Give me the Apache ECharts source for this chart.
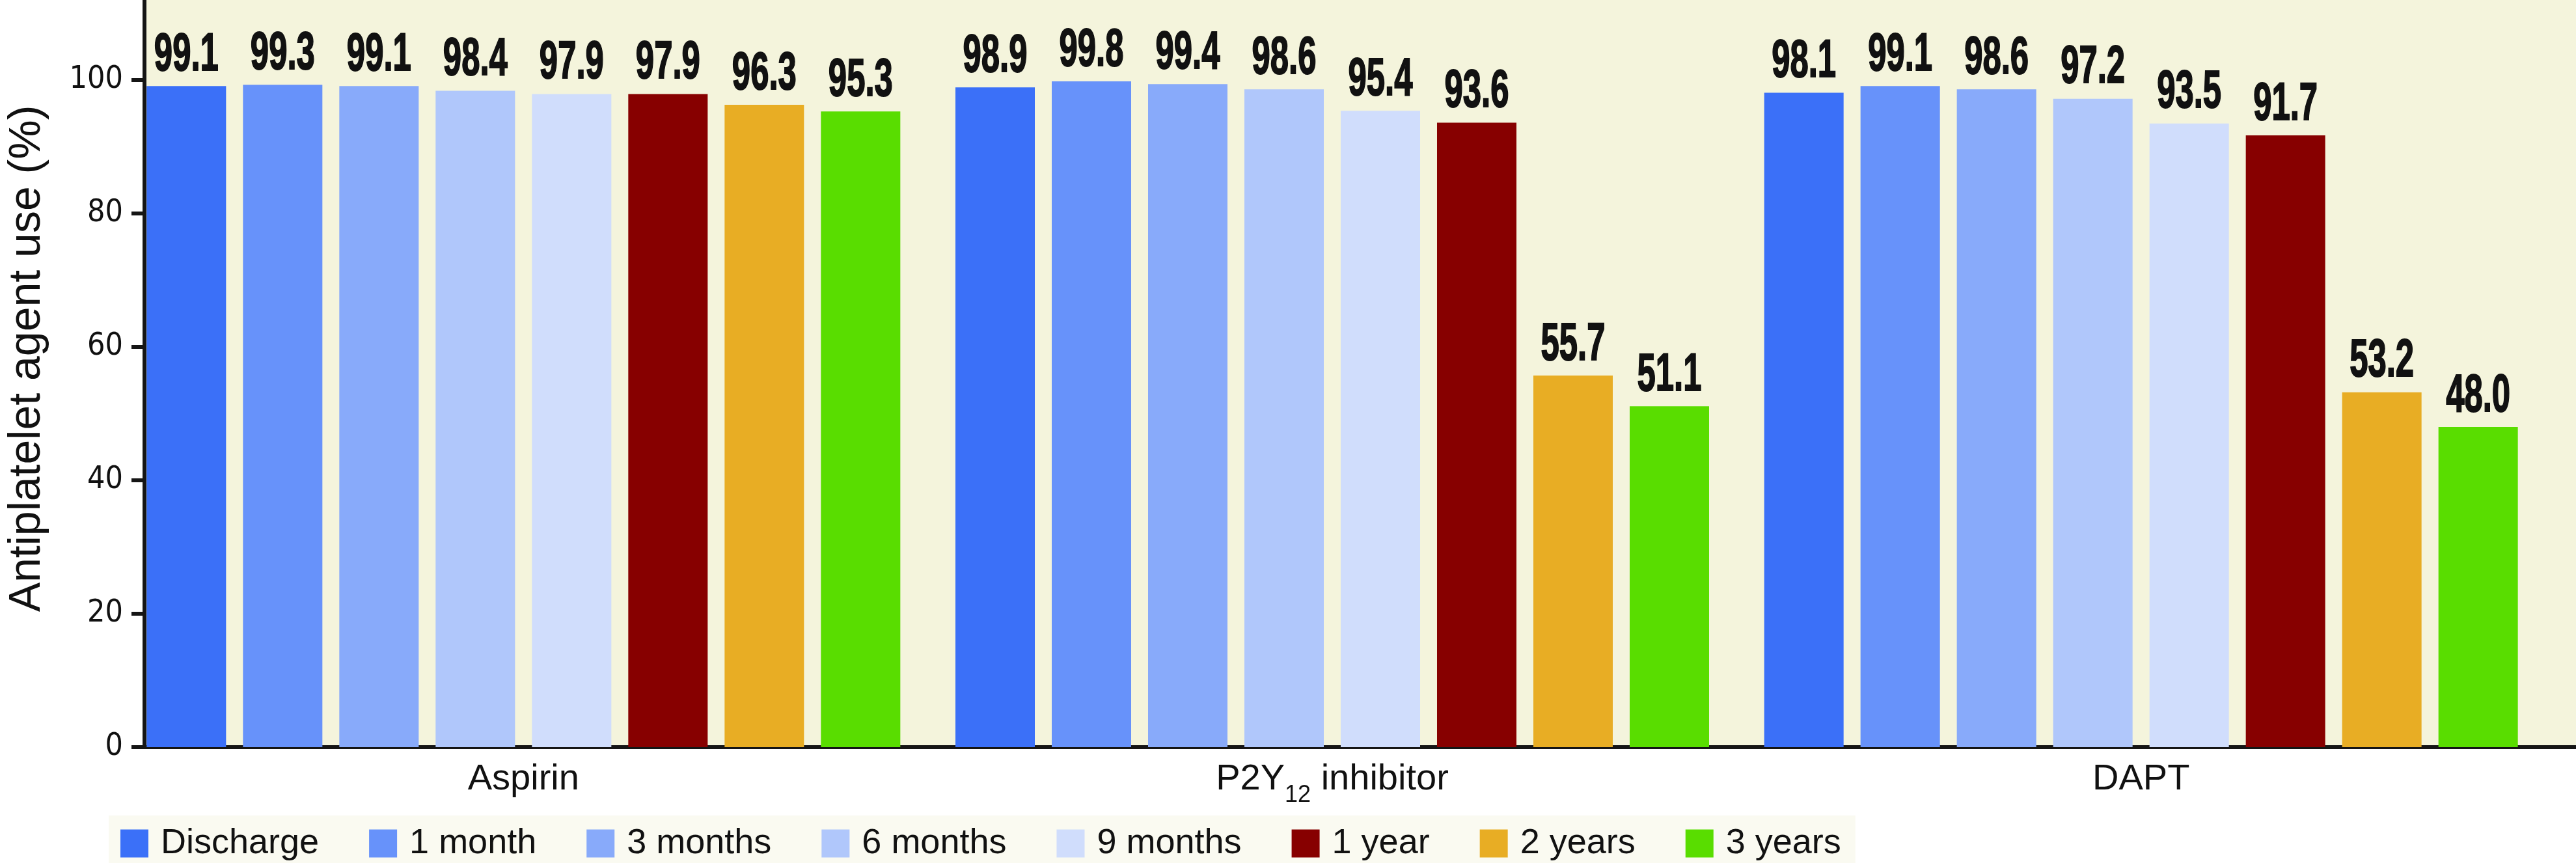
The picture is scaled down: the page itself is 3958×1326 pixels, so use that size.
<!DOCTYPE html>
<html>
<head>
<meta charset="utf-8">
<script src="https://cdn.jsdelivr.net/npm/echarts@6/dist/echarts.min.js"></script>
<style>
html,body{margin:0;padding:0;background:#fff;}
#chart{width:3958px;height:1326px;}
</style>
</head>
<body>
<div id="chart"></div>
<script>
const categories = ['Aspirin', 'P2Y12 inhibitor', 'DAPT'];
const seriesNames = ['Discharge', '1 month', '3 months', '6 months', '9 months', '1 year', '2 years', '3 years'];
const discharge = [99.1, 98.9, 98.1];
const month1 = [99.3, 99.8, 99.1];
const months3 = [99.1, 99.4, 98.6];
const months6 = [98.4, 98.6, 97.2];
const months9 = [97.9, 95.4, 93.5];
const year1 = [97.9, 93.6, 91.7];
const years2 = [96.3, 55.7, 53.2];
const years3 = [95.3, 51.1, 48.0];
const yTicks = [0, 20, 40, 60, 80, 100];
const colors = ['#3B70F8', '#6792FA', '#88AAFA', '#B0C7FB', '#D0DDFC', '#870000', '#E8AD24', '#59DD00'];

const allValues = [discharge, month1, months3, months6, months9, year1, years2, years3];
const Y_MAX = 112;
const BAR_W = 122;
const BAR_GAP = 26;

const chart = echarts.init(document.getElementById('chart'), null, {renderer: 'canvas'});

const barSeries = seriesNames.map((name, i) => ({
  name: name,
  type: 'bar',
  xAxisIndex: 0,
  yAxisIndex: 0,
  data: allValues[i],
  barWidth: BAR_W,
  barGap: (BAR_GAP / BAR_W * 100).toFixed(2) + '%',
  itemStyle: {color: colors[i]},
  emphasis: {disabled: true},
  animation: false
}));

// value labels (condensed bold) placed via the same axes
const labelData = [];
allValues.forEach((arr, si) => arr.forEach((v, ci) => labelData.push([ci, v, si])));
const nSeries = seriesNames.length;

const labelSeries = {
  type: 'custom',
  name: 'labels',
  xAxisIndex: 0,
  yAxisIndex: 0,
  data: labelData,
  encode: {x: 0, y: 1},
  silent: true,
  z: 5,
  renderItem: function (params, api) {
    const ci = api.value(0), v = api.value(1), si = api.value(2);
    const pt = api.coord([ci, v]);
    const off = (si - (nSeries - 1) / 2) * (BAR_W + BAR_GAP);
    return {
      type: 'text',
      x: pt[0] + off,
      y: pt[1] - 47,
      scaleX: 0.62,
      style: {
        text: v.toFixed(1),
        font: 'bold 82px "Liberation Sans", Arial, sans-serif',
        fill: '#111111',
        stroke: '#111111',
        lineWidth: 2,
        textAlign: 'center',
        textVerticalAlign: 'middle'
      }
    };
  },
  animation: false
};

const option = {
  animation: false,
  backgroundColor: '#ffffff',
  grid: [
    {left: 183, right: 47, top: 0, bottom: 178, containLabel: false},
    {left: 167, right: 0, top: 0, bottom: 178, show: true, backgroundColor: '#F4F4DC', borderWidth: 0, containLabel: false}
  ],
  legend: {
    data: seriesNames,
    left: 167,
    top: 1253,
    orient: 'horizontal',
    icon: 'rect',
    itemWidth: 43,
    itemHeight: 43,
    itemGap: 77,
    padding: [16, 22, 16, 18],
    backgroundColor: '#FAFAF1',
    textStyle: {
      fontFamily: '"Liberation Sans", Arial, sans-serif',
      fontSize: 54,
      color: '#111111',
      padding: [0, 0, 0, 14]
    },
    selectedMode: false
  },
  xAxis: [
    {
      type: 'category',
      gridIndex: 0,
      data: categories,
      axisLine: {show: false},
      axisTick: {show: false},
      axisLabel: {
        margin: 22,
        formatter: v => v.indexOf('P2Y12') === 0 ? '{a|P2Y}{s|12}{a|' + v.slice(5) + '}' : '{a|' + v + '}',
        rich: {
          a: {fontFamily: '"Liberation Sans", Arial, sans-serif', fontSize: 56, color: '#111111', lineHeight: 60, verticalAlign: 'top'},
          s: {fontFamily: '"Liberation Sans", Arial, sans-serif', fontSize: 36, color: '#111111', lineHeight: 36, padding: [34, 0, 0, 0], verticalAlign: 'top'}
        }
      }
    },
    {
      type: 'value',
      gridIndex: 1,
      min: 0,
      max: 1,
      axisLine: {show: true, onZero: false, lineStyle: {color: '#151515', width: 6}},
      axisTick: {show: false},
      axisLabel: {show: false},
      splitLine: {show: false}
    }
  ],
  yAxis: [
    {
      type: 'value',
      gridIndex: 0,
      min: 0,
      max: Y_MAX,
      show: false,
      splitLine: {show: false}
    },
    {
      type: 'value',
      gridIndex: 1,
      min: 0,
      max: Y_MAX,
      name: 'Antiplatelet agent use (%)',
      nameLocation: 'middle',
      nameRotate: 90,
      nameGap: 146,
      nameTextStyle: {
        fontFamily: '"Liberation Sans", Arial, sans-serif',
        fontSize: 68,
        color: '#111111',
        padding: [0, 0, 0, 46]
      },
      axisLine: {show: true, onZero: false, lineStyle: {color: '#151515', width: 6}},
      axisTick: {show: true, length: 20, lineStyle: {color: '#151515', width: 6}, customValues: yTicks},
      axisLabel: {
        show: true,
        margin: 33,
        customValues: yTicks,
        fontFamily: '"DejaVu Sans Condensed", "Liberation Sans", sans-serif',
        fontSize: 48,
        color: '#111111'
      },
      splitLine: {show: false}
    }
  ],
  series: barSeries.concat([labelSeries])
};

chart.setOption(option);
</script>
</body>
</html>
